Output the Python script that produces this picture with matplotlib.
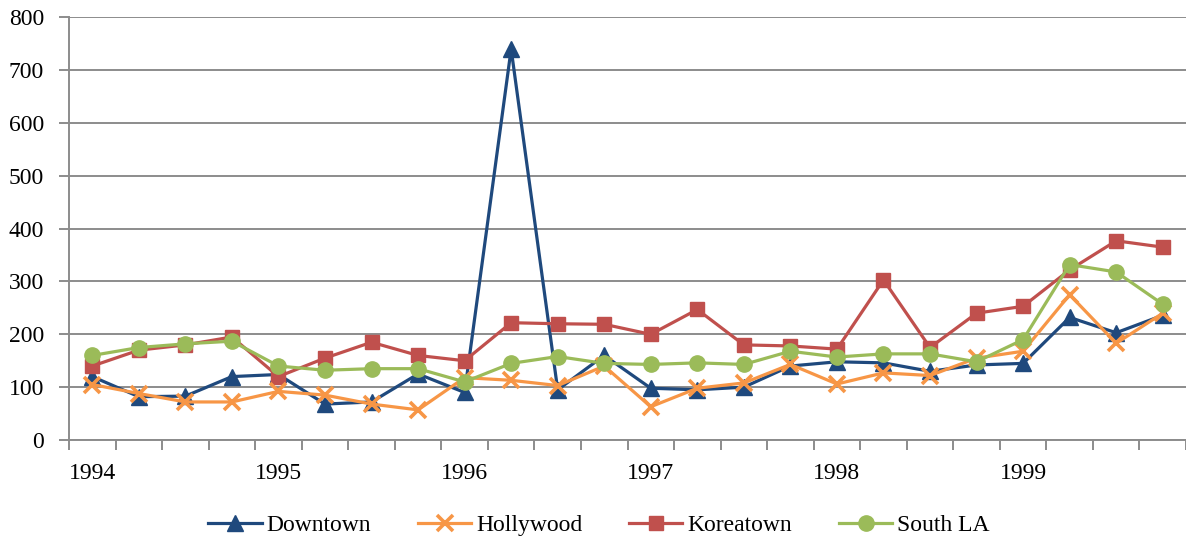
import matplotlib
matplotlib.use("Agg")
import matplotlib.pyplot as plt
import numpy as np

# quarterly values, 1994 Q1 .. 1999 Q4
years = ["1994", "1995", "1996", "1997", "1998", "1999"]
downtown = [120, 82, 83, 120, 124, 68, 72, 125, 90, 740, 95, 160,
            98, 95, 100, 140, 148, 146, 130, 142, 145, 232, 203, 236]
hollywood = [105, 88, 72, 72, 92, 85, 68, 57, 118, 113, 103, 140,
             63, 98, 108, 143, 106, 127, 122, 155, 168, 275, 183, 240]
koreatown = [140, 170, 180, 195, 120, 155, 185, 160, 150, 222, 220, 219,
             200, 247, 180, 178, 172, 303, 175, 240, 253, 322, 377, 365]
south_la = [160, 175, 182, 187, 140, 132, 135, 135, 110, 145, 158, 145,
            143, 146, 143, 168, 157, 163, 163, 148, 190, 332, 318, 257]

plt.rcParams["font.family"] = ["Liberation Serif", "DejaVu Serif"]
GRID = "#8c8c8c"
FS = 17

fig = plt.figure(figsize=(11.86, 5.42), dpi=100)
ax = fig.add_axes([69 / 1186, 102 / 542, 1117 / 1186, 422.7 / 542])

x = np.arange(len(downtown))
lw = 2.3
ax.plot(x, downtown, color="#1F497D", lw=lw, marker="^", ms=11,
        label="Downtown", zorder=3)
ax.plot(x, hollywood, color="#F79646", lw=lw, marker="x", ms=11, mew=2.6,
        label="Hollywood", zorder=4)
ax.plot(x, koreatown, color="#C0504D", lw=lw, marker="s", ms=10,
        label="Koreatown", zorder=3)
ax.plot(x, south_la, color="#9BBB59", lw=lw, marker="o", ms=11,
        label="South LA", zorder=5)

ax.set_xlim(-0.5, len(x) - 0.5)
ax.set_ylim(0, 800)
ax.set_yticks(np.arange(0, 801, 100))
ax.grid(axis="y", color=GRID, lw=1.4)
ax.set_axisbelow(True)

# year labels on the first quarter, tick marks between quarters
ax.set_xticks(np.arange(0, len(x), 4))
ax.set_xticklabels(years)
ax.set_xticks(np.arange(-0.5, len(x), 1), minor=True)
ax.tick_params(axis="x", which="major", length=0, pad=16.5, labelsize=FS)
ax.tick_params(axis="x", which="minor", length=7, width=1.4, color=GRID)
ax.tick_params(axis="y", length=7, width=1.4, color=GRID, pad=11,
               labelsize=FS)

for side in ("top", "right"):
    ax.spines[side].set_visible(False)
for side in ("left", "bottom"):
    ax.spines[side].set_color(GRID)
    ax.spines[side].set_linewidth(1.4)

fig.legend(loc="center", bbox_to_anchor=(0.505, 17 / 542), ncol=4,
           frameon=False, fontsize=FS, handlelength=2.25, columnspacing=2.0,
           handletextpad=0.2)

fig.savefig("out.png", dpi=100)
